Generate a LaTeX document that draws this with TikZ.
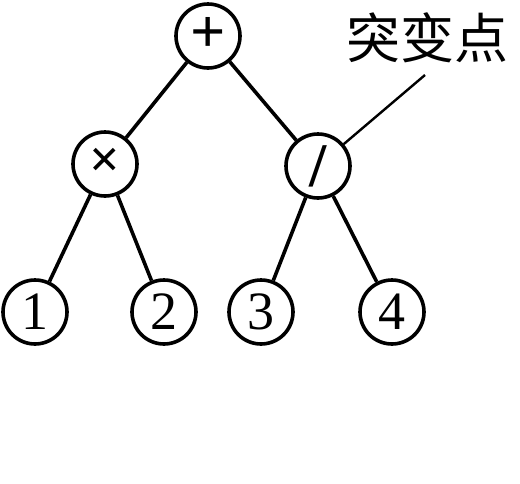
\documentclass[tikz,border=0pt]{standalone}
\usepackage{fontspec}
\setmainfont{Liberation Serif}
\newfontfamily\cjk{Noto Sans CJK SC}
\begin{document}
\begin{tikzpicture}[x=1pt,y=-1pt,
  opnode/.style={circle,draw,line width=3.6pt,minimum size=64pt,inner sep=0pt,font=\fontsize{54}{54}\selectfont},
  opsym/.style={font=\fontsize{62}{62}\selectfont\bfseries},
  edge/.style={line width=3.6pt},
  callout/.style={line width=2.4pt}]
\useasboundingbox (0,0) rectangle (520,483);
\node[opnode,opsym] (plus) at (208,36) {\raisebox{2pt}{+}};
\node[opnode,font=\fontsize{54}{54}\selectfont\bfseries] (times) at (105,164) {\raisebox{2pt}{×}};
\node[opnode,opsym] (div) at (318,166) {/};
\node[opnode] (n1) at (35,312) {1};
\node[opnode] (n2) at (164,312) {2};
\node[opnode] (n3) at (261,312) {3};
\node[opnode] (n4) at (392,312) {4};
\node[font=\cjk\fontsize{54}{54}\selectfont,inner sep=0pt] (lbl) at (427,38) {突变点};
\coordinate (lblend) at (425,75);
\draw[edge] (plus) -- (times);
\draw[edge] (plus) -- (div);
\draw[edge] (times) -- (n1);
\draw[edge] (times) -- (n2);
\draw[edge] (div) -- (n3);
\draw[edge] (div) -- (n4);
\draw[callout] (lblend) -- (div);
\end{tikzpicture}
\end{document}
